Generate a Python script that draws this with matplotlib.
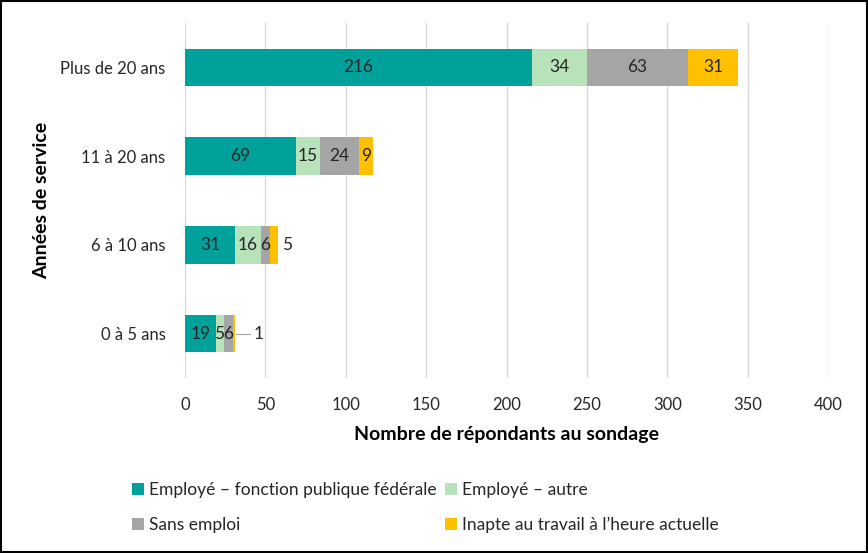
import matplotlib
matplotlib.use("Agg")
import matplotlib.pyplot as plt
from matplotlib.patches import Rectangle
import numpy as np

plt.rcParams['font.family'] = ['Lato', 'DejaVu Sans']

categories = ["0 à 5 ans", "6 à 10 ans", "11 à 20 ans", "Plus de 20 ans"]
series_names = ["Employé – fonction publique fédérale", "Employé – autre",
                "Sans emploi", "Inapte au travail à l’heure actuelle"]
values = {
    "Employé – fonction publique fédérale": [19, 31, 69, 216],
    "Employé – autre": [5, 16, 15, 34],
    "Sans emploi": [6, 6, 24, 63],
    "Inapte au travail à l’heure actuelle": [1, 5, 9, 31],
}
colors = ["#00A19A", "#B8E2BA", "#A5A5A5", "#FFC000"]
xticks = [0, 50, 100, 150, 200, 250, 300, 350, 400]

fig = plt.figure(figsize=(8.68, 5.53), dpi=100)
ax = fig.add_axes([185/868, 1-378/553, 643/868, (378-23)/553])

y = np.arange(len(categories))
left = np.zeros(len(categories))
handles = []
textcol = "#262626"
for i, name in enumerate(series_names):
    vals = np.array(values[name], dtype=float)
    h = ax.barh(y, vals, left=left, height=0.42, color=colors[i], zorder=2)
    handles.append(h)
    for j, v in enumerate(vals):
        cx = left[j] + v / 2
        if i == 3 and j == 0:
            # outside label with leader line
            end = left[j] + v
            ax.plot([end + 0.5, end + 9.5], [y[j], y[j]], color="#A6A6A6", lw=0.8, zorder=3)
            ax.text(end + 15, y[j], f"{int(v)}", ha="center", va="center", fontsize=12.5, color=textcol)
        elif i == 3 and j == 1:
            end = left[j] + v
            ax.text(end + 5.5, y[j], f"{int(v)}", ha="center", va="center", fontsize=12.5, color=textcol)
        else:
            ax.text(cx, y[j], f"{int(v)}", ha="center", va="center", fontsize=12.5, color=textcol)
    left = left + vals

ax.set_xlim(0, 400)
ax.set_ylim(-0.5, 3.5)
ax.set_xticks(xticks)
ax.set_xticklabels([str(t) for t in xticks])
ax.set_yticks(y)
ax.set_yticklabels(categories)
ax.tick_params(axis='both', length=0, labelsize=12, colors="#262626")
ax.tick_params(axis='x', pad=14)
ax.tick_params(axis='y', pad=14)
for s in ax.spines.values():
    s.set_visible(False)
ax.grid(axis='x', color="#D9D9D9", lw=1, zorder=0)
ax.set_axisbelow(True)

ax.set_xlabel("Nombre de répondants au sondage", fontsize=14, fontweight="bold", labelpad=9, color="black")
ax.set_ylabel("Années de service", fontsize=14, fontweight="bold", labelpad=7, color="black")

order = [0, 2, 1, 3]
leg = fig.legend([handles[k] for k in order], [series_names[k] for k in order],
                 ncol=2, loc="upper left", bbox_to_anchor=(132/868, 1-482/553),
                 frameon=False, fontsize=12.5, handlelength=0.7, handleheight=0.7,
                 handletextpad=0.3, columnspacing=0.45, labelspacing=1.08, borderpad=0,
                 borderaxespad=0)
for t in leg.get_texts():
    t.set_color("#262626")

fig.patches.append(Rectangle((0.001, 0.001), 0.998, 0.997, transform=fig.transFigure,
                             fill=False, edgecolor="black", lw=1.5))

fig.savefig("out.png", dpi=100)
